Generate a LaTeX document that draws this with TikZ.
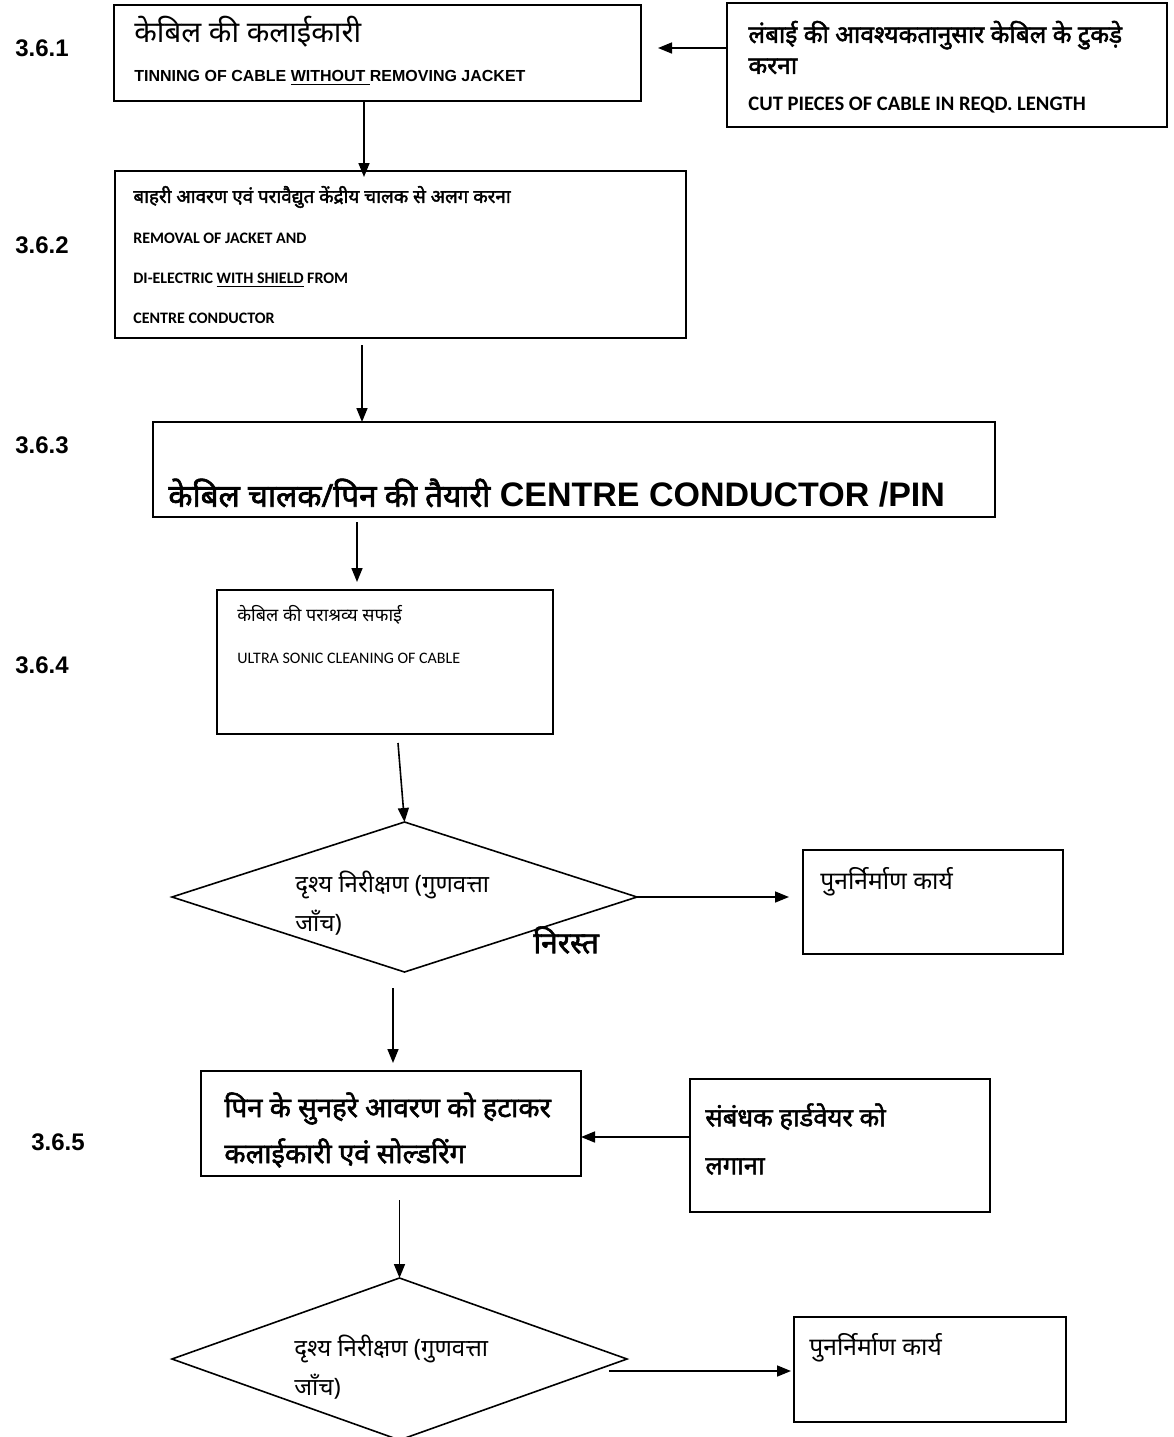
\documentclass[tikz,border=0pt]{standalone}
\usepackage{fontspec}
\setmainfont{Liberation Sans}
\newfontfamily\calib{Carlito}
\newfontfamily\hin[Script=Devanagari]{Noto Sans}
\newfontfamily\hinb[Script=Devanagari,FakeBold=2]{Noto Sans}
\usetikzlibrary{arrows.meta,positioning,calc,shapes.geometric}
\newcommand{\fsz}[2]{\fontsize{#1}{#2}\selectfont}
\tikzset{
  block/.style    = {draw, line width=1pt, rectangle, inner sep=0pt, outer sep=0pt},
  decision/.style = {draw, line width=0.8pt, diamond, inner sep=0pt, outer sep=0pt},
  txt/.style      = {anchor=west, inner sep=0pt, align=left},
  steplbl/.style  = {font=\bfseries\fsz{12}{14}, inner sep=0pt},
  sig/.style      = {-{Triangle[length=7pt,width=5.5pt]}, line width=0.8pt},
}
\begin{document}
\begin{tikzpicture}[x=0.5pt,y=-0.5pt]
\useasboundingbox (0,0) rectangle (1174,1437);
% step numbers
\foreach \nm/\x/\y/\lab in {s1/42/48/3.6.1, s2/42/245/3.6.2, s3/42/445/3.6.3,
                            s4/42/665/3.6.4, s5/58/1142/3.6.5}{
  \node[steplbl] (\nm) at (\x,\y) {\lab};}
% boxes
\node[block, minimum width=263.5pt, minimum height=48pt]   (tin)    at (377.5,53) {};
\node[block, minimum width=220pt,   minimum height=62pt]   (cut)    at (947,65) {};
\node[block, minimum width=285.5pt, minimum height=83.5pt] (strip)  at (400.5,254.5) {};
\node[block, minimum width=421pt,   minimum height=47.5pt] (prep)   at (574,469.5) {};
\node[block, minimum width=168pt,   minimum height=72pt]   (clean)  at (385,662) {};
\node[decision, minimum width=232.5pt, minimum height=75pt] (insp1) at (404.5,897) {};
\node[block, minimum width=130pt,   minimum height=52pt]   (redo1)  at (933,902) {};
\node[block, minimum width=190pt,   minimum height=52.5pt] (solder) at (391,1123.5) {};
\node[block, minimum width=150pt,   minimum height=66.5pt] (hware)  at (840,1145.5) {};
\node[decision, minimum width=227.5pt, minimum height=81pt] (insp2) at (399.5,1359) {};
\node[block, minimum width=136pt,   minimum height=52.5pt] (redo2)  at (930,1369.5) {};
% texts
\node[txt, font=\hin\fsz{14.7}{18}] (tin-hi) at (134,32) {केबिल की कलाईकारी};
\node[txt, font=\bfseries\fsz{8}{10}] (tin-en) at (134,78)
  {TINNING OF CABLE \underline{WITHOUT\ }REMOVING JACKET};
\node[txt, font=\hinb\fsz{12.25}{15.5}] (cut-hi) at (748,47.5)
  {लंबाई की आवश्यकतानुसार केबिल के टुकड़े\\करना};
\node[txt, font=\calib\bfseries\fsz{10.3}{12}] (cut-en) at (748,105)
  {CUT PIECES OF CABLE IN REQD. LENGTH};
\node[txt, font=\hinb\fsz{9.4}{12}] (strip-hi) at (133,197)
  {बाहरी आवरण एवं परावैद्युत केंद्रीय चालक से अलग करना};
\node[txt, font=\calib\bfseries\fsz{8}{20}] (strip-en) at (133,278)
  {REMOVAL OF JACKET AND\\DI-ELECTRIC \underline{WITH SHIELD} FROM\\CENTRE CONDUCTOR};
\node[txt, font=\fsz{17}{20}] (prep-t) at (168,493)
  {{\hinb\fsz{15.7}{20}केबिल चालक/पिन की तैयारी} {\bfseries CENTRE CONDUCTOR /PIN}};
\node[txt, font=\hin\fsz{9}{11}] (clean-hi) at (237,615) {केबिल की पराश्रव्य सफाई};
\node[txt, font=\calib\fsz{8}{10}] (clean-en) at (237,658) {ULTRA SONIC CLEANING OF CABLE};
\node[txt, font=\hin\fsz{12}{19.5}] (insp1-t) at (295,903.5) {दृश्य निरीक्षण (गुणवत्ता\\जाँच)};
\node[txt, font=\hinb\fsz{15}{18}] (rej) at (533,940) {निरस्त};
\node[txt, font=\hin\fsz{12.3}{14}] (redo1-t) at (820,882) {पुनर्निर्माण कार्य};
\node[txt, font=\hinb\fsz{13.8}{23}] (solder-t) at (224,1130)
  {पिन के सुनहरे आवरण को हटाकर\\कलाईकारी एवं सोल्डरिंग};
\node[txt, font=\hinb\fsz{12.8}{24}] (hware-t) at (705,1139) {संबंधक हार्डवेयर को\\लगाना};
\node[txt, font=\hin\fsz{12}{19.5}] (insp2-t) at (294,1367.5) {दृश्य निरीक्षण (गुणवत्ता\\जाँच)};
\node[txt, font=\hin\fsz{12.3}{14}] (redo2-t) at (809,1348) {पुनर्निर्माण कार्य};
% flow
\coordinate (cutin) at (658,48);
\draw[sig] (cut.west |- cutin) -- (cutin);
\coordinate (t2) at (364,177);
\draw[sig] (tin.south -| t2) -- (t2);
\coordinate (s3a) at (362,345);
\draw[sig] (s3a) -- (prep.north -| s3a);
\coordinate (p4a) at (357,522);
\coordinate (p4b) at (357,582);
\draw[sig] (p4a) -- (p4b);
\coordinate (c5a) at (398,743);
\draw[sig] (c5a) -- (insp1.north);
\coordinate (r1) at (789,900);
\draw[sig] (insp1.east) -- (insp1.east -| r1);
\coordinate (d5a) at (393,988);
\coordinate (d5b) at (393,1063);
\draw[sig] (d5a) -- (d5b);
\coordinate (hw) at (0,1137);
\draw[sig] (hware.west |- hw) -- (solder.east |- hw);
\coordinate (e6a) at (0,1200);
\draw[sig] (insp2.north |- e6a) -- (insp2.north);
\coordinate (r2a) at (609,1371);
\coordinate (r2b) at (791,1371);
\draw[sig] (r2a) -- (r2b);
\end{tikzpicture}
\end{document}
